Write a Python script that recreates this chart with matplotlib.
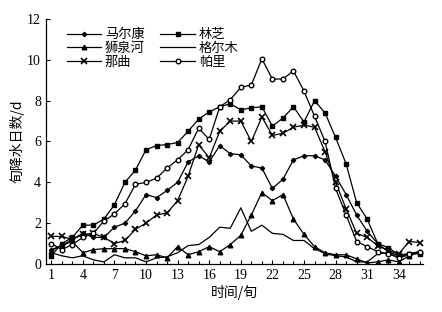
import matplotlib
matplotlib.use("Agg")
import matplotlib.pyplot as plt
from matplotlib.ticker import MultipleLocator

plt.rcParams['font.family'] = ['Liberation Serif', 'Noto Sans CJK SC']

x = list(range(1, 37))

# 旬降水日数 (d)
maerkang = [0.7, 0.9, 1.2, 1.5, 1.3, 1.3, 1.8, 2.0, 2.6, 3.4, 3.25, 3.6,
            4.0, 5.0, 5.3, 5.0, 5.8, 5.4, 5.35, 4.8, 4.7, 3.7, 4.15, 5.1,
            5.3, 5.3, 5.1, 4.3, 3.4, 2.4, 1.6, 1.0, 0.6, 0.4, 0.5, 0.6]
linzhi = [0.4, 1.0, 1.3, 1.9, 1.9, 2.2, 2.9, 4.0, 4.6, 5.6, 5.8, 5.85,
          5.95, 6.5, 7.1, 7.45, 7.7, 7.85, 7.55, 7.65, 7.7, 6.75, 7.15, 7.7,
          6.95, 8.0, 7.4, 6.2, 4.9, 3.0, 2.2, 1.0, 0.8, 0.45, 0.5, 0.5]
shiquanhe = [0.65, 0.9, 1.1, 0.55, 0.7, 0.75, 0.75, 0.75, 0.6, 0.4, 0.45, 0.3,
             0.85, 0.45, 0.6, 0.85, 0.6, 0.95, 1.4, 2.4, 3.5, 3.1, 3.4, 2.2,
             1.45, 0.85, 0.55, 0.45, 0.45, 0.25, 0.05, 0.1, 0.2, 0.1, 0.4, 0.6]
geermu = [0.55, 0.4, 0.3, 0.4, 0.2, 0.1, 0.45, 0.3, 0.3, 0.1, 0.3, 0.35,
          0.55, 0.9, 0.95, 1.3, 1.8, 1.75, 2.75, 1.6, 1.9, 1.5, 1.45, 1.15,
          1.15, 0.75, 0.5, 0.4, 0.35, 0.1, 0.1, 0.5, 0.55, 0.3, 0.45, 0.55]
naqu = [1.35, 1.35, 1.2, 1.45, 1.5, 1.3, 1.0, 1.15, 1.7, 2.0, 2.4, 2.5,
        3.1, 4.3, 5.85, 5.2, 6.5, 7.0, 7.0, 6.0, 7.2, 6.3, 6.4, 6.7,
        6.8, 6.7, 5.5, 4.0, 2.7, 1.5, 1.3, 0.9, 0.65, 0.5, 1.1, 1.05]
pali = [1.0, 0.7, 0.95, 1.3, 1.5, 2.1, 2.45, 2.95, 3.9, 4.0, 4.2, 4.7,
        5.1, 5.6, 6.65, 6.1, 7.7, 8.05, 8.65, 8.77, 10.05, 9.06, 9.06, 9.46,
        8.47, 7.24, 6.0, 3.7, 2.4, 1.1, 0.85, 0.6, 0.5, 0.3, 0.5, 0.6]

fig = plt.figure(figsize=(4.42, 3.12), dpi=100)
ax = fig.add_axes([0.104, 0.154, 0.853, 0.785])

kw = dict(color="black", lw=0.9)
h_mek, = ax.plot(x, maerkang, marker="D", ms=2.2, label="马尔康", **kw)
h_lz, = ax.plot(x, linzhi, marker="s", ms=3.3, label="林芝", **kw)
h_sqh, = ax.plot(x, shiquanhe, marker="^", ms=3.3, label="狮泉河", **kw)
h_gem, = ax.plot(x, geermu, label="格尔木", **kw)
h_nq, = ax.plot(x, naqu, marker="x", ms=4, mew=1.2, label="那曲", **kw)
h_pl, = ax.plot(x, pali, marker="o", ms=3.3, mfc="white", label="帕里", **kw)

ax.set_xlim(0.5, 36.3)
ax.set_ylim(0, 12)
ax.set_xticks(range(1, 37, 3))
ax.xaxis.set_minor_locator(MultipleLocator(1))
ax.set_yticks(range(0, 13, 2))
ax.tick_params(direction="in", labelsize=10, length=3, width=0.8)
ax.tick_params(which="minor", direction="in", length=2, width=0.8)
for s in ("top", "right"):
    ax.spines[s].set_visible(False)
for s in ("left", "bottom"):
    ax.spines[s].set_linewidth(0.9)

ax.set_xlabel("时间/旬", family="Noto Sans CJK SC", fontsize=10, labelpad=2)
ax.set_ylabel("旬降水日数/d", family="Noto Sans CJK SC", fontsize=10, labelpad=2)

# legend fills column by column
handles = [h_mek, h_sqh, h_nq, h_lz, h_gem, h_pl]
ax.legend(handles=handles, ncol=2, loc="upper left", bbox_to_anchor=(0.03, 1.0),
          frameon=False, prop={"family": "Noto Sans CJK SC", "size": 9.5},
          handlelength=2.6, labelspacing=0.05, columnspacing=1.2,
          handletextpad=0.3, borderpad=0.2)

fig.savefig("out.png", dpi=100)
